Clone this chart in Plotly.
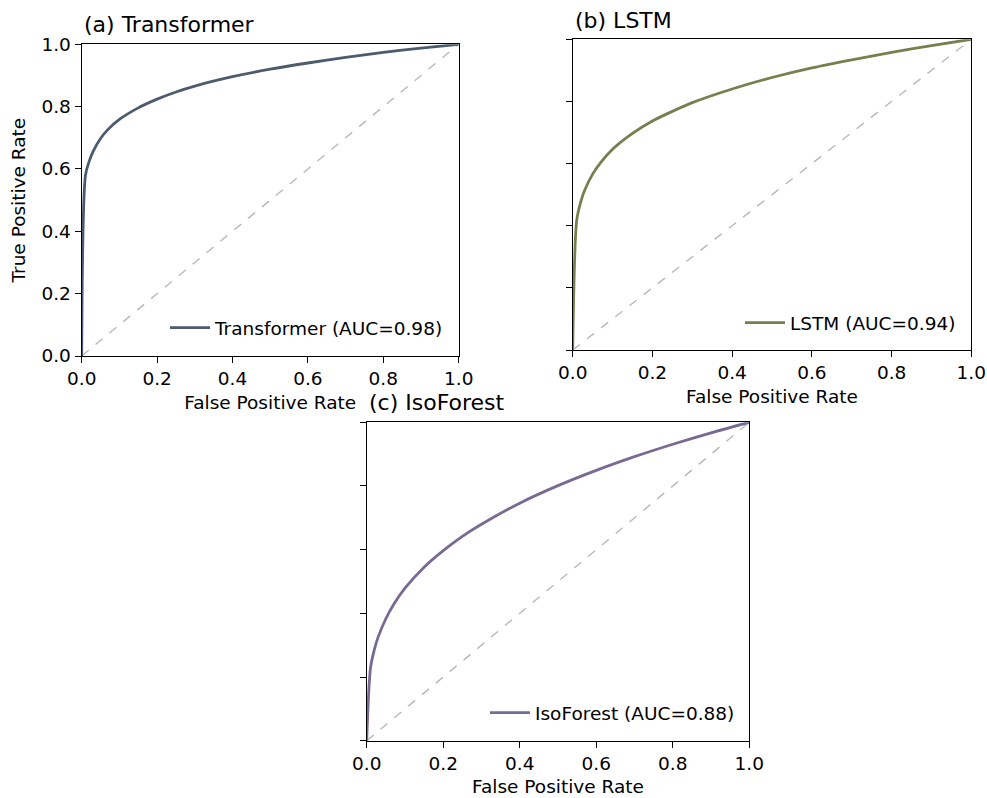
import plotly.graph_objects as go

# ---- data ----
fpr = [0.0, 0.01, 0.02, 0.03, 0.05, 0.07, 0.10, 0.15, 0.20, 0.25, 0.30,
       0.40, 0.50, 0.60, 0.70, 0.80, 0.90, 1.0]
tpr_transformer = [0.0, 0.580, 0.625, 0.656, 0.698, 0.727, 0.759, 0.796, 0.824,
                   0.847, 0.866, 0.896, 0.920, 0.940, 0.958, 0.974, 0.988, 1.0]
tpr_lstm = [0.0, 0.417, 0.476, 0.514, 0.566, 0.603, 0.646, 0.697, 0.737,
            0.768, 0.796, 0.840, 0.877, 0.908, 0.934, 0.958, 0.980, 1.0]
tpr_isoforest = [0.0, 0.229, 0.286, 0.326, 0.383, 0.427, 0.479, 0.545, 0.597,
                 0.642, 0.680, 0.746, 0.801, 0.849, 0.892, 0.931, 0.967, 1.0]
diag = [0.0, 1.0]

models = ["Transformer", "LSTM", "IsoForest"]
aucs = [0.98, 0.94, 0.88]
panel_titles = ["(a) Transformer", "(b) LSTM", "(c) IsoForest"]
tick_vals = [0.0, 0.2, 0.4, 0.6, 0.8, 1.0]
tick_text = ["0.0", "0.2", "0.4", "0.6", "0.8", "1.0"]

colors = ["#4d5b6e", "#76804e", "#786a93"]
tprs = [tpr_transformer, tpr_lstm, tpr_isoforest]

W, H = 987, 798
FONT = "DejaVu Sans"
FS = 18.5


def px_x(p):
    return p / W


def px_y(p):
    return 1 - p / H


# plot-area boxes in pixels: (left, right, top, bottom)
boxes = [(81.7, 458.7, 44.3, 356.0),
         (572.7, 971.3, 39.3, 350.0),
         (366.7, 749.3, 422.3, 740.7)]
title_y = [24, 20, 402]
legend_pos = [(449, 328), (961, 323), (740, 713)]

fig = go.Figure()

for i in range(3):
    xa = "x" if i == 0 else f"x{i+1}"
    ya = "y" if i == 0 else f"y{i+1}"
    lg = "legend" if i == 0 else f"legend{i+1}"
    fig.add_trace(go.Scatter(x=diag, y=diag, mode="lines", xaxis=xa, yaxis=ya,
                             line=dict(color="#b8b8b8", width=1.4, dash="dash"),
                             showlegend=False, hoverinfo="skip"))
    fig.add_trace(go.Scatter(x=fpr, y=tprs[i], mode="lines", xaxis=xa, yaxis=ya,
                             line=dict(color=colors[i], width=2.8, shape="spline",
                                       smoothing=0.8),
                             name=f"{models[i]} (AUC={aucs[i]:.2f})",
                             legend=lg))

layout = dict(
    width=W, height=H,
    margin=dict(l=0, r=0, t=0, b=0, autoexpand=False),
    paper_bgcolor="white", plot_bgcolor="white",
    font=dict(family=FONT, size=FS, color="black"),
    showlegend=True,
)

for i, (l, r, t, b) in enumerate(boxes):
    xk = "xaxis" if i == 0 else f"xaxis{i+1}"
    yk = "yaxis" if i == 0 else f"yaxis{i+1}"
    ax_common = dict(range=[0, 1], showgrid=False, zeroline=False,
                     showline=True, linecolor="black", linewidth=1.3,
                     mirror=True, ticks="outside", ticklen=6, tickwidth=1.3,
                     tickcolor="black", tickvals=tick_vals, automargin=False,
                     tickfont=dict(family=FONT, size=FS, color="black"))
    xa = dict(ax_common, domain=[px_x(l), px_x(r)],
              ticktext=tick_text,
              title=dict(text="False Positive Rate",
                         font=dict(family=FONT, size=FS, color="black"),
                         standoff=7),
              anchor="y" if i == 0 else f"y{i+1}")
    ya = dict(ax_common, domain=[px_y(b), px_y(t)],
              anchor="x" if i == 0 else f"x{i+1}")
    if i == 0:
        ya["ticktext"] = tick_text
        ya["title"] = dict(text="True Positive Rate",
                           font=dict(family=FONT, size=FS, color="black"),
                           standoff=10)
    else:
        ya["ticktext"] = [""] * len(tick_vals)
    layout[xk] = xa
    layout[yk] = ya

    lk = "legend" if i == 0 else f"legend{i+1}"
    lx, ly = legend_pos[i]
    layout[lk] = dict(x=px_x(lx), y=px_y(ly), xanchor="right", yanchor="middle",
                      xref="paper", yref="paper",
                      bgcolor="rgba(0,0,0,0)", borderwidth=0,
                      font=dict(family=FONT, size=FS, color="black"),
                      itemwidth=40)

fig.update_layout(**layout)

for i, (l, r, t, b) in enumerate(boxes):
    fig.add_annotation(text=panel_titles[i], xref="paper", yref="paper",
                       x=px_x(l), y=px_y(title_y[i]), xanchor="left",
                       yanchor="middle", showarrow=False,
                       font=dict(family=FONT, size=22, color="black"))

fig.write_html("out.html",
               config={"displayModeBar": False},
               post_script="document.body.style.margin='0';"
                           "document.body.style.overflow='hidden';")
